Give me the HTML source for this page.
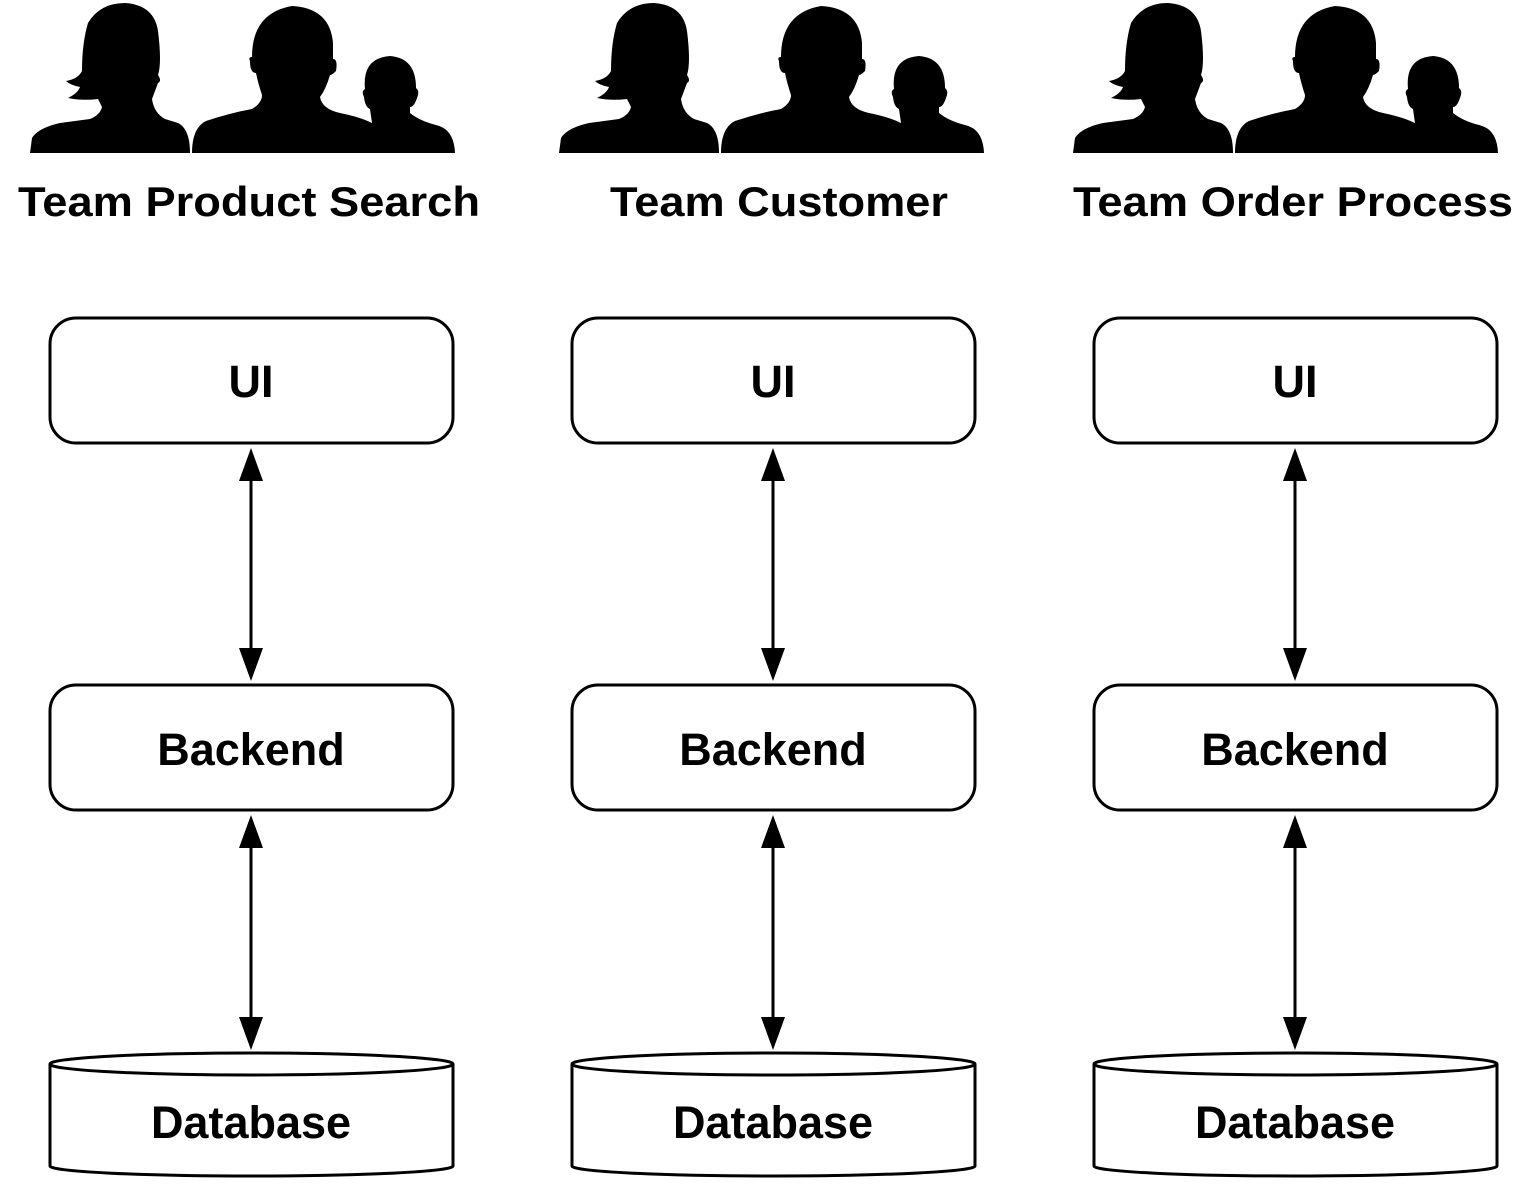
<!DOCTYPE html>
<html><head><style>body{margin:0;background:#fff}svg{display:block}</style></head><body>
<svg width="1536" height="1186" viewBox="0 0 1536 1186" xmlns="http://www.w3.org/2000/svg" font-family="Liberation Sans, sans-serif" font-weight="bold">
<defs>
<g id="people">
<path d="M0,150 L2,135 Q8,125 30,120 L60,116 Q70,112 72,104 L68,96 Q52,98 38,95 Q48,90 50,84 Q40,82 36,78 Q48,76 52,68 Q52,40 58,20 Q70,0 95,0 Q124,2 128,28 Q132,60 128,72 Q132,78 128,80 L122,96 Q124,110 135,116 L148,120 Q160,126 160,150 Z"/>
<path d="M162,150 Q162,125 176,118 Q200,110 222,106 Q232,100 232,92 Q228,80 226,70 Q220,70 220,58 Q218,54 222,54 Q222,10 262,3 Q300,5 303,40 L303,56 Q308,56 306,68 Q302,72 300,72 Q296,86 290,94 Q292,106 310,110 Q330,114 342,120 L340,106 Q335,104 334,94 Q331,88 335,86 Q332,55 360,53 Q386,55 386,85 Q390,88 387,95 Q384,104 380,104 L380,110 Q390,118 406,122 Q424,126 425,150 Z"/>
</g>
<g id="col" fill="none" stroke="#000" stroke-width="3">
<rect x="50" y="318" width="403" height="125" rx="26"/>
<rect x="50" y="685" width="403" height="125" rx="26"/>
<path d="M50,1064 L50,1166 A201.5,10 0 0 0 453,1166 L453,1064"/>
<ellipse cx="251.5" cy="1064" rx="201.5" ry="11"/>
<line x1="251" y1="470" x2="251" y2="660"/>
<line x1="251" y1="837" x2="251" y2="1027"/>
<path d="M251,448 L239,481 L263,481 Z M251,681 L239,648 L263,648 Z M251,815 L239,848 L263,848 Z M251,1050 L239,1017 L263,1017 Z" fill="#000" stroke="none"/>
<g fill="#000" stroke="none" font-size="45" text-anchor="middle">
<text x="251" y="397">UI</text>
<text x="251" y="765">Backend</text>
<text x="251" y="1138">Database</text>
</g>
</g>
</defs>
<use href="#people" x="30" y="3"/>
<use href="#people" x="559" y="3"/>
<use href="#people" x="1073" y="3"/>
<use href="#col"/>
<use href="#col" x="522"/>
<use href="#col" x="1044"/>
<g font-size="42" text-anchor="middle">
<text x="249" y="216" textLength="462" lengthAdjust="spacingAndGlyphs">Team Product Search</text>
<text x="779" y="216" textLength="338" lengthAdjust="spacingAndGlyphs">Team Customer</text>
<text x="1293" y="216" textLength="440" lengthAdjust="spacingAndGlyphs">Team Order Process</text>
</g>
</svg>
</body></html>
